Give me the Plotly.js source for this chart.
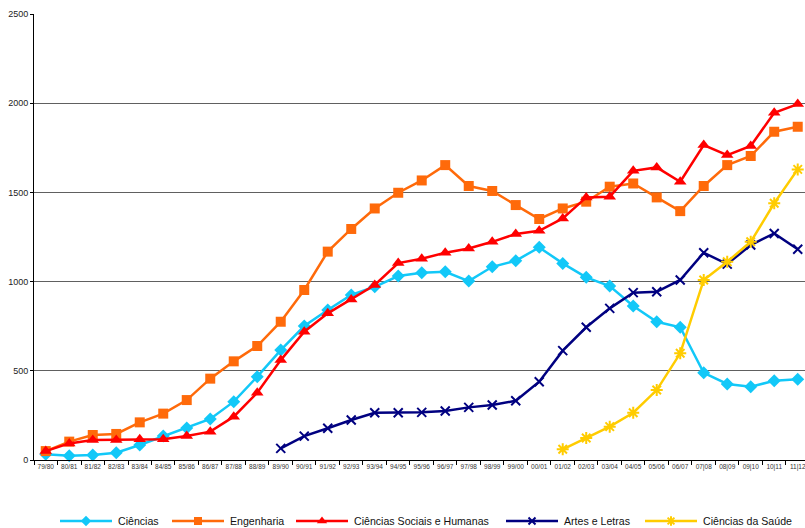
<!DOCTYPE html>
<html>
<head>
<meta charset="utf-8">
<script src="https://cdn.plot.ly/plotly-3.0.1.min.js"></script>
<style>html,body{margin:0;padding:0;background:#fff;}#chart{width:805px;height:528px;}</style>
</head>
<body>
<div id="chart"></div>
<script>
const years = ["79/80","80/81","81/82","82/83","83/84","84/85","85/86","86/87","87/88","88/89",
  "89/90","90/91","91/92","92/93","93/94","94/95","95/96","96/97","97/98","98/99",
  "99/00","00/01","01/02","02/03","03/04","04/05","05/06","06/07","07|08","08|09",
  "09|10","10|11","11|12"];

const ciencias = [32, 24, 28, 41, 84, 134, 180, 230, 327, 467,
  616, 751, 841, 925, 971, 1031, 1050, 1055, 1003, 1083,
  1117, 1192, 1102, 1024, 975, 863, 775, 744, 489, 426,
  411, 444, 452];

const engenharia = [50, 103, 140, 146, 211, 260, 336, 456, 553, 639,
  775, 953, 1168, 1295, 1410, 1498, 1567, 1653, 1536, 1508,
  1429, 1351, 1410, 1448, 1532, 1550, 1472, 1395, 1536, 1653,
  1704, 1840, 1868];

const sociais = [50, 93, 112, 112, 116, 116, 135, 159, 243, 377,
  560, 719, 822, 900, 981, 1104, 1128, 1162, 1186, 1223,
  1267, 1285, 1354, 1472, 1476, 1621, 1640, 1560, 1765, 1709,
  1760, 1946, 1995];

const artes = [null, null, null, null, null, null, null, null, null, null,
  65, 134, 178, 224, 265, 265, 267, 275, 295, 308,
  332, 439, 613, 744, 850, 938, 943, 1009, 1162, 1098,
  1205, 1270, 1181];

const saude = [null, null, null, null, null, null, null, null, null, null,
  null, null, null, null, null, null, null, null, null, null,
  null, null, 60, 123, 187, 265, 392, 598, 1009, 1111,
  1223, 1439, 1629];

const names = ["Ciências", "Engenharia", "Ciências Sociais e Humanas", "Artes e Letras", "Ciências da Saúde"];
const colors = ["#12C8F8", "#FF6A0A", "#FF0000", "#000080", "#FFCC00"];
const symbols = ["diamond", "square", "triangle-up", "x-thin-open", "asterisk-open"];
const msizes = [10, 10, 11, 9, 10];
const mlines = [0, 0, 0, 2, 2];

/* legend layout (pixel positions on the overlay axes) */
const legLineStart = [60, 172, 296, 506, 645];
const legLineLen = 52;
const legTextGap = 4;
const legY = 521;

const series = [ciencias, engenharia, sociais, artes, saude];
const data = [];
series.forEach((y, i) => {
  data.push({
    x: years, y: y, name: names[i], type: "scatter", mode: "lines+markers",
    line: {color: colors[i], width: 2.5},
    marker: {symbol: symbols[i], size: msizes[i], color: colors[i], line: {color: colors[i], width: mlines[i]}},
    cliponaxis: false, showlegend: false
  });
});

const annotations = [];
names.forEach((n, i) => {
  const x0 = legLineStart[i], x1 = x0 + legLineLen;
  data.push({
    x: [x0, x1], y: [legY, legY], xaxis: "x2", yaxis: "y2", type: "scatter", mode: "lines",
    line: {color: colors[i], width: 2.5}, showlegend: false, hoverinfo: "skip"
  });
  data.push({
    x: [(x0 + x1) / 2], y: [legY], xaxis: "x2", yaxis: "y2", type: "scatter", mode: "markers",
    marker: {symbol: symbols[i], size: msizes[i] - 2, color: colors[i], line: {color: colors[i], width: mlines[i]}},
    showlegend: false, hoverinfo: "skip", cliponaxis: false
  });
  annotations.push({
    x: x1 + legTextGap, y: legY, xref: "x2", yref: "y2", text: n, showarrow: false,
    xanchor: "left", yanchor: "middle",
    font: {size: 10.6, color: "#111", family: "Liberation Sans, Arial, sans-serif"}
  });
});

const layout = {
  width: 805, height: 528,
  margin: {l: 34, r: 0, t: 14, b: 0},
  paper_bgcolor: "#fff", plot_bgcolor: "rgba(0,0,0,0)",
  showlegend: false,
  font: {family: "Liberation Sans, Arial, sans-serif", color: "#222"},
  xaxis: {
    type: "category", range: [-0.5, 32.31], anchor: "y",
    showgrid: false, zeroline: false,
    showline: true, linecolor: "#000", linewidth: 1,
    ticks: "outside", ticklen: 4, tickcolor: "#000", tickson: "boundaries",
    tickangle: 0,
    tickfont: {size: 6.5, color: "#333", family: "Liberation Sans, Arial, sans-serif"}
  },
  yaxis: {
    domain: [68 / 514, 1], anchor: "x",
    range: [0, 2500], dtick: 500, tick0: 0,
    showgrid: true, gridcolor: "#606060", gridwidth: 1,
    zeroline: false,
    showline: true, linecolor: "#000", linewidth: 1,
    ticks: "outside", ticklen: 3, tickcolor: "#000",
    tickfont: {size: 9, color: "#222", family: "Liberation Sans, Arial, sans-serif"}
  },
  xaxis2: {domain: [0, 1], range: [34, 805], anchor: "y2", visible: false, fixedrange: true},
  yaxis2: {domain: [0, 40 / 514], range: [528, 488], anchor: "x2", visible: false, fixedrange: true},
  annotations: annotations
};

Plotly.newPlot("chart", data, layout, {displayModeBar: false, staticPlot: true});
</script>
</body>
</html>
